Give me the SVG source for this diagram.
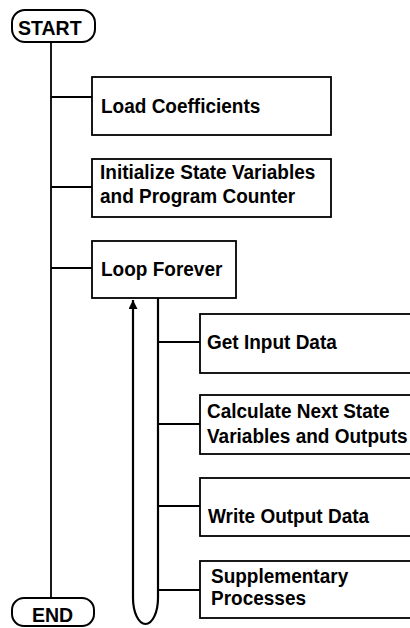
<svg xmlns="http://www.w3.org/2000/svg" width="410" height="628" viewBox="0 0 410 628">
<defs>
<style>
.box{fill:#fff;stroke:#000;stroke-width:1.8}
.pill{fill:#fff;stroke:#000;stroke-width:2}
.t{font-family:"Liberation Sans",Arial,sans-serif;font-weight:bold;font-size:21px;fill:#000}
.c{fill:none;stroke:#000;stroke-width:1.8}
.loop{fill:none;stroke:#000;stroke-width:2.2}
</style>
<marker id="arr" markerWidth="9" markerHeight="9" refX="9" refY="4.5" orient="auto" markerUnits="userSpaceOnUse">
<path d="M0,0 L9,4.5 L0,9 Z" fill="#000"/>
</marker>
</defs>
<rect width="410" height="628" fill="#fff"/>
<g id="connectors">
<line class="c" x1="51" y1="42" x2="51" y2="598"/>
<line class="c" x1="51" y1="97" x2="92" y2="97"/>
<line class="c" x1="51" y1="187" x2="92" y2="187"/>
<line class="c" x1="51" y1="268" x2="92" y2="268"/>
<path class="loop" d="M158,298 V598 A12.5,26 0 0 1 133,598 V300" marker-end="url(#arr)"/>
<line class="c" x1="158" y1="342" x2="200" y2="342"/>
<line class="c" x1="158" y1="424" x2="200" y2="424"/>
<line class="c" x1="158" y1="506" x2="200" y2="506"/>
<line class="c" x1="158" y1="590" x2="200" y2="590"/>
</g>
<g id="start">
<rect class="pill" x="12" y="10" width="83" height="32" rx="13"/>
<text class="t" transform="translate(18,35) scale(0.93,1)">START</text>
</g>
<g id="load">
<rect class="box" x="92" y="77" width="239" height="58"/>
<text class="t" transform="translate(101,113) scale(0.905,1)">Load Coefficients</text>
</g>
<g id="init">
<rect class="box" x="92" y="159" width="239" height="58"/>
<text class="t" transform="translate(100,179) scale(0.905,1)">Initialize State Variables</text>
<text class="t" transform="translate(100,203) scale(0.905,1)">and Program Counter</text>
</g>
<g id="loopbox">
<rect class="box" x="92" y="241" width="144" height="57"/>
<text class="t" transform="translate(101,276) scale(0.905,1)">Loop Forever</text>
</g>
<g id="getinput">
<rect class="box" x="200" y="314" width="215" height="59"/>
<text class="t" transform="translate(207,349) scale(0.905,1)">Get Input Data</text>
</g>
<g id="calc">
<rect class="box" x="200" y="395" width="215" height="59"/>
<text class="t" transform="translate(207,418) scale(0.905,1)">Calculate Next State</text>
<text class="t" transform="translate(207,443) scale(0.905,1)">Variables and Outputs</text>
</g>
<g id="write">
<rect class="box" x="200" y="478" width="215" height="58"/>
<text class="t" transform="translate(208,523) scale(0.905,1)">Write Output Data</text>
</g>
<g id="supp">
<rect class="box" x="200" y="561" width="215" height="57"/>
<text class="t" transform="translate(211,583) scale(0.905,1)">Supplementary</text>
<text class="t" transform="translate(211,605) scale(0.905,1)">Processes</text>
</g>
<g id="end">
<rect class="pill" x="12" y="598" width="82" height="28" rx="12"/>
<text class="t" transform="translate(32,622) scale(0.93,1)">END</text>
</g>
</svg>
